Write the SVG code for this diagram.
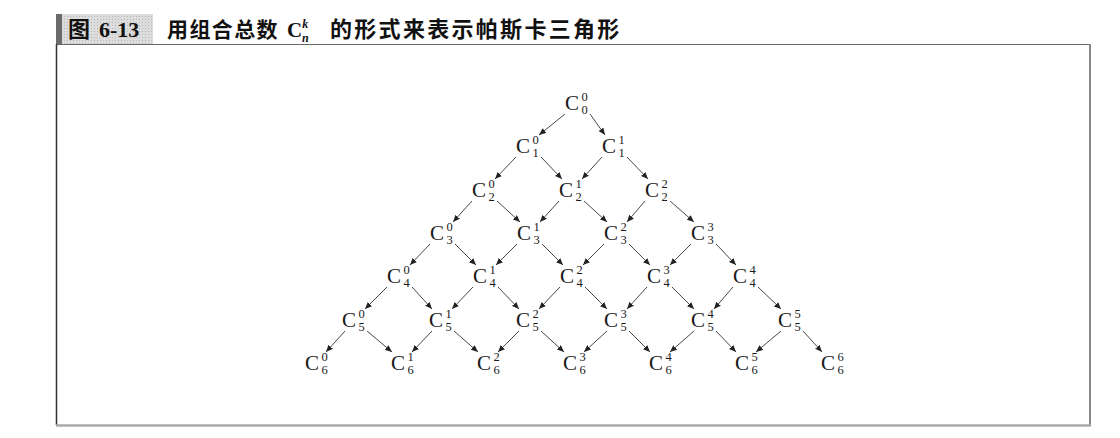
<svg xmlns="http://www.w3.org/2000/svg" width="1120" height="438" viewBox="0 0 1120 438">
<style>
.c{font-family:"Liberation Serif","Times New Roman",serif;font-size:21px;fill:#1a1a1a}
.s{font-size:12.5px}
.e{stroke:#333;stroke-width:0.9;fill:none;marker-end:url(#ah)}
.tcjk{font-family:"Noto Sans CJK SC","Noto Sans",sans-serif;font-weight:bold;fill:#111}
.tser{font-family:"Liberation Serif","Times New Roman",serif;font-weight:bold;fill:#111}
</style>
<defs>
<marker id="ah" markerWidth="7" markerHeight="6" refX="7" refY="3" orient="auto" markerUnits="userSpaceOnUse">
<path d="M0,0 L7,3 L0,6 z" fill="#222"/>
</marker>
<pattern id="dots" width="3" height="3" patternUnits="userSpaceOnUse">
<rect width="3" height="3" fill="#dcdcdc"/>
<rect x="1" y="1" width="1" height="1" fill="#b8b8b8"/>
</pattern>
</defs>
<rect width="1120" height="438" fill="#fff"/>
<g id="title">
<rect x="56" y="14" width="97" height="30" fill="url(#dots)"/>
<rect x="56" y="14" width="6" height="30" fill="#6b6b6b"/>
<text class="tcjk" x="68" y="37" font-size="22">图</text>
<text class="tser" x="99" y="37" font-size="22">6-13</text>
<text class="tcjk" x="167" y="37" font-size="21" letter-spacing="1.4">用组合总数</text>
<text class="tser" x="287" y="37" font-size="21">C<tspan font-size="12" font-style="italic" dy="-9">k</tspan><tspan font-size="12" font-style="italic" x="302" dy="13.5">n</tspan></text>
<text class="tcjk" x="330" y="37" font-size="22" letter-spacing="2.3">的形式来表示帕斯卡三角形</text>
</g>
<g id="frame" fill="none">
<line x1="56" y1="44.5" x2="1090" y2="44.5" stroke="#666" stroke-width="1.2"/>
<line x1="56.5" y1="44" x2="56.5" y2="425" stroke="#333" stroke-width="1.5"/>
<line x1="1090" y1="44" x2="1090" y2="426" stroke="#888" stroke-width="2"/>
<line x1="56" y1="425.5" x2="1091" y2="425.5" stroke="#aaa" stroke-width="2.5"/>
</g>
<g id="connectors">
<line class="e" x1="565" y1="114" x2="539" y2="135"/>
<line class="e" x1="590" y1="114" x2="605" y2="135"/>
<line class="e" x1="516" y1="157" x2="495" y2="179"/>
<line class="e" x1="541" y1="157" x2="562" y2="179"/>
<line class="e" x1="602" y1="157" x2="582" y2="179"/>
<line class="e" x1="627" y1="157" x2="648" y2="179"/>
<line class="e" x1="472" y1="201" x2="453" y2="222"/>
<line class="e" x1="497" y1="201" x2="520" y2="222"/>
<line class="e" x1="559" y1="201" x2="540" y2="222"/>
<line class="e" x1="584" y1="201" x2="607" y2="222"/>
<line class="e" x1="645" y1="201" x2="627" y2="222"/>
<line class="e" x1="670" y1="201" x2="694" y2="222"/>
<line class="e" x1="430" y1="244" x2="410" y2="265"/>
<line class="e" x1="455" y1="244" x2="476" y2="265"/>
<line class="e" x1="517" y1="244" x2="496" y2="265"/>
<line class="e" x1="542" y1="244" x2="563" y2="265"/>
<line class="e" x1="604" y1="244" x2="583" y2="265"/>
<line class="e" x1="629" y1="244" x2="650" y2="265"/>
<line class="e" x1="691" y1="244" x2="670" y2="265"/>
<line class="e" x1="716" y1="244" x2="736" y2="265"/>
<line class="e" x1="387" y1="287" x2="365" y2="309"/>
<line class="e" x1="412" y1="287" x2="432" y2="309"/>
<line class="e" x1="473" y1="287" x2="452" y2="309"/>
<line class="e" x1="498" y1="287" x2="519" y2="309"/>
<line class="e" x1="560" y1="287" x2="539" y2="309"/>
<line class="e" x1="585" y1="287" x2="607" y2="309"/>
<line class="e" x1="647" y1="287" x2="627" y2="309"/>
<line class="e" x1="672" y1="287" x2="694" y2="309"/>
<line class="e" x1="733" y1="287" x2="714" y2="309"/>
<line class="e" x1="758" y1="287" x2="781" y2="309"/>
<line class="e" x1="345" y1="331" x2="326" y2="352"/>
<line class="e" x1="367" y1="331" x2="392" y2="352"/>
<line class="e" x1="432" y1="331" x2="412" y2="352"/>
<line class="e" x1="454" y1="331" x2="478" y2="352"/>
<line class="e" x1="519" y1="331" x2="498" y2="352"/>
<line class="e" x1="541" y1="331" x2="564" y2="352"/>
<line class="e" x1="607" y1="331" x2="584" y2="352"/>
<line class="e" x1="629" y1="331" x2="650" y2="352"/>
<line class="e" x1="694" y1="331" x2="670" y2="352"/>
<line class="e" x1="716" y1="331" x2="736" y2="352"/>
<line class="e" x1="781" y1="331" x2="756" y2="352"/>
<line class="e" x1="803" y1="331" x2="822" y2="352"/>
</g>
<g id="n0_0"><text class="c" x="565" y="110">C<tspan class="s" x="581.5" dy="-9">0</tspan><tspan class="s" x="581.5" dy="12.5">0</tspan></text></g>
<g id="n1_0"><text class="c" x="516" y="153">C<tspan class="s" x="532.5" dy="-9">0</tspan><tspan class="s" x="532.5" dy="12.5">1</tspan></text></g>
<g id="n1_1"><text class="c" x="602" y="153">C<tspan class="s" x="618.5" dy="-9">1</tspan><tspan class="s" x="618.5" dy="12.5">1</tspan></text></g>
<g id="n2_0"><text class="c" x="472" y="197">C<tspan class="s" x="488.5" dy="-9">0</tspan><tspan class="s" x="488.5" dy="12.5">2</tspan></text></g>
<g id="n2_1"><text class="c" x="559" y="197">C<tspan class="s" x="575.5" dy="-9">1</tspan><tspan class="s" x="575.5" dy="12.5">2</tspan></text></g>
<g id="n2_2"><text class="c" x="645" y="197">C<tspan class="s" x="661.5" dy="-9">2</tspan><tspan class="s" x="661.5" dy="12.5">2</tspan></text></g>
<g id="n3_0"><text class="c" x="430" y="240">C<tspan class="s" x="446.5" dy="-9">0</tspan><tspan class="s" x="446.5" dy="12.5">3</tspan></text></g>
<g id="n3_1"><text class="c" x="517" y="240">C<tspan class="s" x="533.5" dy="-9">1</tspan><tspan class="s" x="533.5" dy="12.5">3</tspan></text></g>
<g id="n3_2"><text class="c" x="604" y="240">C<tspan class="s" x="620.5" dy="-9">2</tspan><tspan class="s" x="620.5" dy="12.5">3</tspan></text></g>
<g id="n3_3"><text class="c" x="691" y="240">C<tspan class="s" x="707.5" dy="-9">3</tspan><tspan class="s" x="707.5" dy="12.5">3</tspan></text></g>
<g id="n4_0"><text class="c" x="387" y="283">C<tspan class="s" x="403.5" dy="-9">0</tspan><tspan class="s" x="403.5" dy="12.5">4</tspan></text></g>
<g id="n4_1"><text class="c" x="473" y="283">C<tspan class="s" x="489.5" dy="-9">1</tspan><tspan class="s" x="489.5" dy="12.5">4</tspan></text></g>
<g id="n4_2"><text class="c" x="560" y="283">C<tspan class="s" x="576.5" dy="-9">2</tspan><tspan class="s" x="576.5" dy="12.5">4</tspan></text></g>
<g id="n4_3"><text class="c" x="647" y="283">C<tspan class="s" x="663.5" dy="-9">3</tspan><tspan class="s" x="663.5" dy="12.5">4</tspan></text></g>
<g id="n4_4"><text class="c" x="733" y="283">C<tspan class="s" x="749.5" dy="-9">4</tspan><tspan class="s" x="749.5" dy="12.5">4</tspan></text></g>
<g id="n5_0"><text class="c" x="342" y="327">C<tspan class="s" x="358.5" dy="-9">0</tspan><tspan class="s" x="358.5" dy="12.5">5</tspan></text></g>
<g id="n5_1"><text class="c" x="429" y="327">C<tspan class="s" x="445.5" dy="-9">1</tspan><tspan class="s" x="445.5" dy="12.5">5</tspan></text></g>
<g id="n5_2"><text class="c" x="516" y="327">C<tspan class="s" x="532.5" dy="-9">2</tspan><tspan class="s" x="532.5" dy="12.5">5</tspan></text></g>
<g id="n5_3"><text class="c" x="604" y="327">C<tspan class="s" x="620.5" dy="-9">3</tspan><tspan class="s" x="620.5" dy="12.5">5</tspan></text></g>
<g id="n5_4"><text class="c" x="691" y="327">C<tspan class="s" x="707.5" dy="-9">4</tspan><tspan class="s" x="707.5" dy="12.5">5</tspan></text></g>
<g id="n5_5"><text class="c" x="778" y="327">C<tspan class="s" x="794.5" dy="-9">5</tspan><tspan class="s" x="794.5" dy="12.5">5</tspan></text></g>
<g id="n6_0"><text class="c" x="305" y="370">C<tspan class="s" x="321.5" dy="-9">0</tspan><tspan class="s" x="321.5" dy="12.5">6</tspan></text></g>
<g id="n6_1"><text class="c" x="391" y="370">C<tspan class="s" x="407.5" dy="-9">1</tspan><tspan class="s" x="407.5" dy="12.5">6</tspan></text></g>
<g id="n6_2"><text class="c" x="477" y="370">C<tspan class="s" x="493.5" dy="-9">2</tspan><tspan class="s" x="493.5" dy="12.5">6</tspan></text></g>
<g id="n6_3"><text class="c" x="563" y="370">C<tspan class="s" x="579.5" dy="-9">3</tspan><tspan class="s" x="579.5" dy="12.5">6</tspan></text></g>
<g id="n6_4"><text class="c" x="649" y="370">C<tspan class="s" x="665.5" dy="-9">4</tspan><tspan class="s" x="665.5" dy="12.5">6</tspan></text></g>
<g id="n6_5"><text class="c" x="735" y="370">C<tspan class="s" x="751.5" dy="-9">5</tspan><tspan class="s" x="751.5" dy="12.5">6</tspan></text></g>
<g id="n6_6"><text class="c" x="821" y="370">C<tspan class="s" x="837.5" dy="-9">6</tspan><tspan class="s" x="837.5" dy="12.5">6</tspan></text></g>
</svg>
